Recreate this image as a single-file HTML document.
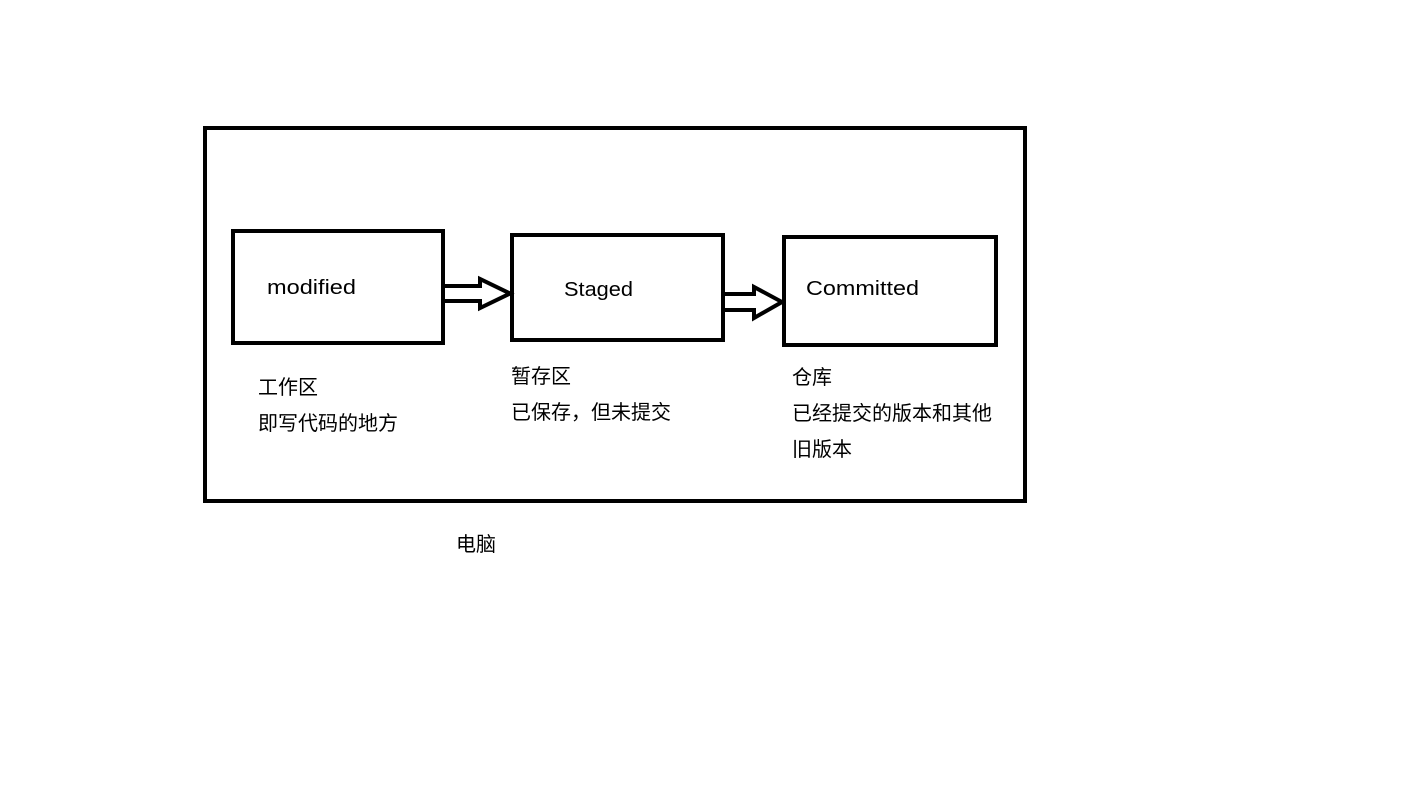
<!DOCTYPE html>
<html><head><meta charset="utf-8"><style>
html,body{margin:0;padding:0;background:#fff;width:1421px;height:786px;overflow:hidden}
svg{display:block}
text{font-family:"Liberation Sans","Noto Sans CJK SC",sans-serif;font-size:20px;fill:#000}
</style></head><body>
<svg width="1421" height="786" viewBox="0 0 1421 786" xmlns="http://www.w3.org/2000/svg">
<g fill="none" stroke="#000" stroke-width="4" stroke-linejoin="miter">
<rect x="205" y="128" width="820" height="373"/>
<rect x="233" y="231" width="210" height="112"/>
<rect x="512" y="235" width="211" height="105"/>
<rect x="784" y="237" width="212" height="108"/>
<path d="M445 286 H480 V279 L510 293.5 L480 308 V301 H445"/>
<path d="M725 294 H754 V287 L782 302 L754 318 V310 H725"/>
</g>
<text x="267" y="294" textLength="89" lengthAdjust="spacingAndGlyphs">modified</text>
<text x="564" y="296" textLength="69" lengthAdjust="spacingAndGlyphs">Staged</text>
<text x="806" y="295" textLength="113" lengthAdjust="spacingAndGlyphs">Committed</text>
<text x="258" y="394">工作区</text>
<text x="258" y="430">即写代码的地方</text>
<text x="511" y="383">暂存区</text>
<text x="511" y="419">已保存，但未提交</text>
<text x="792" y="384">仓库</text>
<text x="792" y="420">已经提交的版本和其他</text>
<text x="792" y="456">旧版本</text>
<text x="456" y="551">电脑</text>
</svg>
</body></html>
